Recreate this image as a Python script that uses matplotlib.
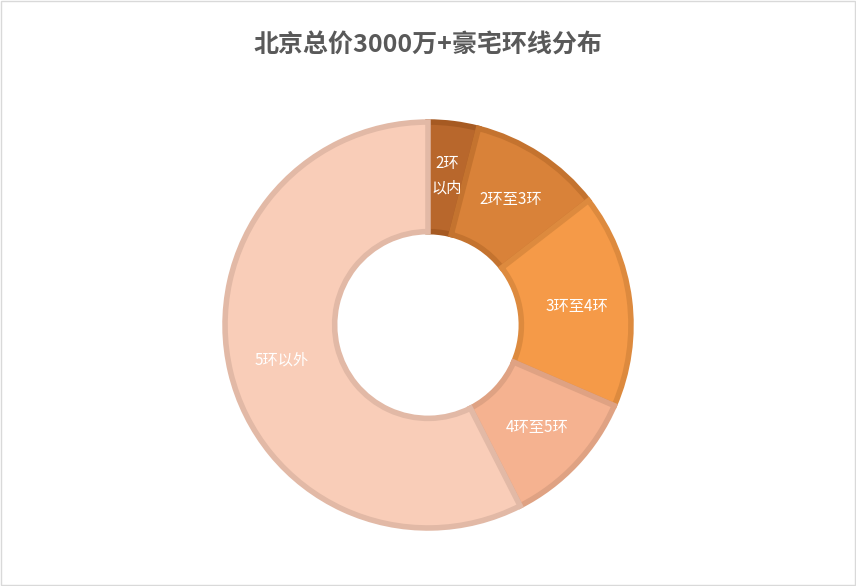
import matplotlib
matplotlib.use('Agg')
from matplotlib import pyplot as plt
from matplotlib.patches import Rectangle
import numpy as np

plt.rcParams['font.family'] = ['Noto Sans CJK SC', 'DejaVu Sans']

labels = ['2环\n以内', '2环至3环', '3环至4环', '4环至5环', '5环以外']
values = [4.0, 10.5, 17.0, 11.0, 57.5]
colors = ['#b8672c', '#d98239', '#f59a48', '#f5b290', '#f9cdb8']
edges = ['#a65a22', '#c4732f', '#dd8a3e', '#dfa283', '#e2b9a6']

fig = plt.figure(figsize=(8.56, 5.86), dpi=100)
ax = fig.add_axes([0.5 - 205 / 856, (586 - 530) / 586, 410 / 856, 410 / 586])

wedges, _ = ax.pie(values, colors=colors, startangle=90, counterclock=False,
                   radius=1.0, wedgeprops=dict(width=0.54, linewidth=4))
for w, ec in zip(wedges, edges):
    w.set_edgecolor(ec)

# labels at mid ring
theta = 90.0
for lab, v in zip(labels, values):
    span = v / sum(values) * 360
    mid = np.deg2rad(theta - span / 2)
    r = 0.74
    ax.text(r * np.cos(mid), r * np.sin(mid), lab, ha='center', va='center',
            color='white', fontsize=11, linespacing=1.6)
    theta -= span
ax.set_xlim(-1.01, 1.01)
ax.set_ylim(-1.01, 1.01)
ax.set_aspect('equal')

fig.text(0.5, 0.922, '北京总价3000万+豪宅环线分布', ha='center', va='center',
         fontsize=18, fontweight='bold', color='#595959')
fig.patches.append(Rectangle((0.001, 0.001), 0.998, 0.998, transform=fig.transFigure,
                             fill=False, edgecolor='#d9d9d9', linewidth=1))
fig.savefig('out.png', dpi=100)
